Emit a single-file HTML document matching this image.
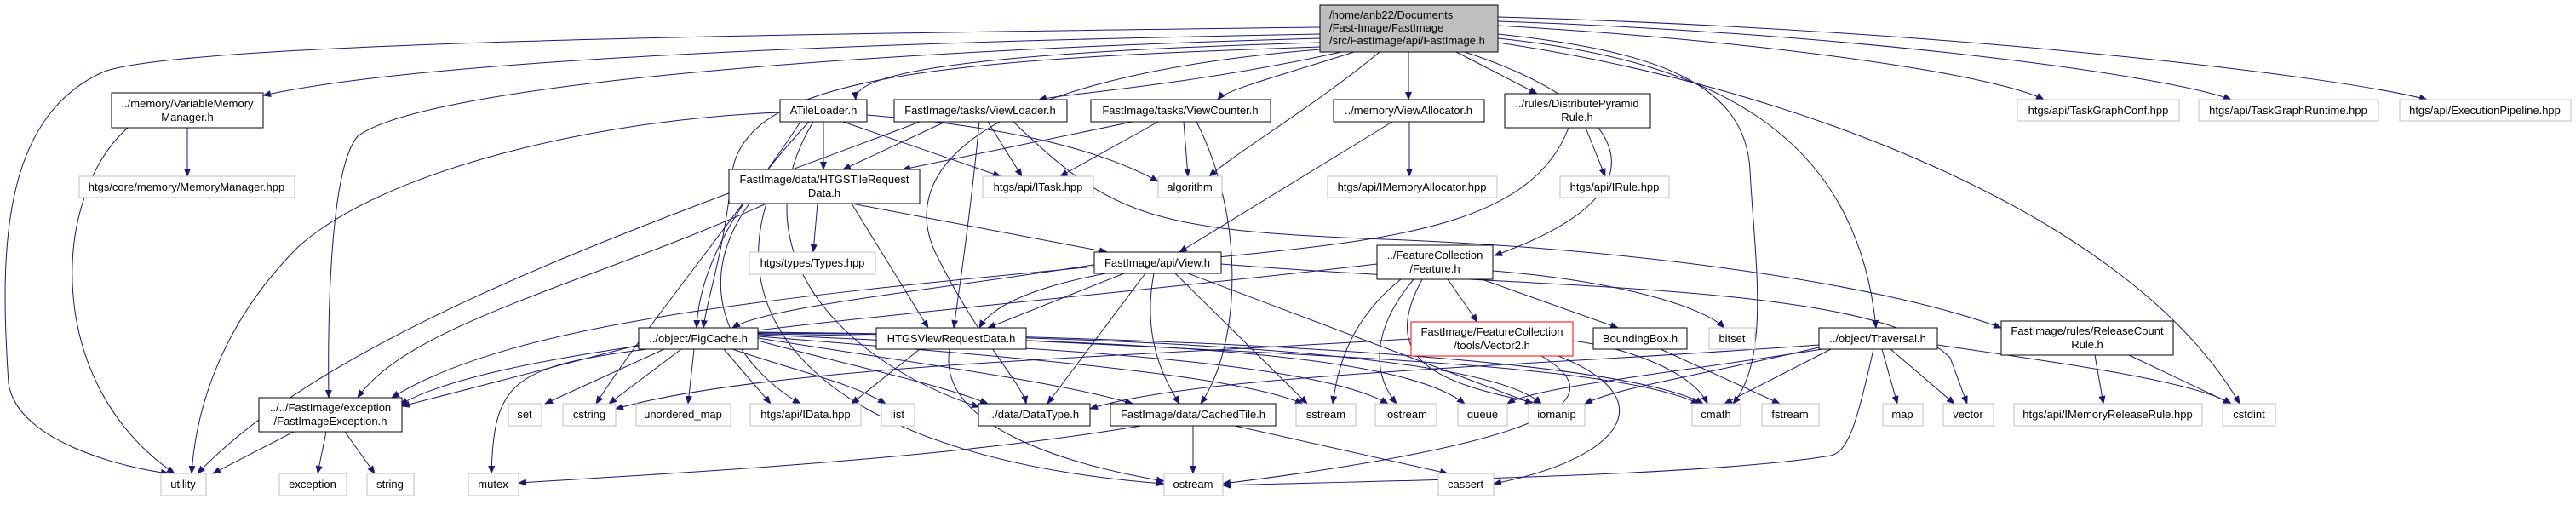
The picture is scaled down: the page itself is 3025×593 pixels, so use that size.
<!DOCTYPE html>
<html><head><meta charset="utf-8"><style>
html,body{margin:0;padding:0;background:#fff;}
svg text{font-family:"Liberation Sans",sans-serif;font-size:13px;fill:#000;}
</style></head><body>
<svg width="3025" height="588" viewBox="0 0 3025 588" xmlns="http://www.w3.org/2000/svg">
<defs><marker id="a" markerWidth="10" markerHeight="8" refX="9" refY="4" orient="auto" markerUnits="userSpaceOnUse"><path d="M0,0 L10,4 L0,8 z" fill="#191970"/></marker></defs>
<g fill="none" stroke="#191970" stroke-width="1" marker-end="url(#a)">
<path d="M1550,32 C900,40 200,50 120,85 C0,140 0,300 10,450 C20,520 150,550 198,556"/>
<path d="M1550,40 C1000,50 500,70 309,112"/>
<path d="M1550,45 C1000,60 500,100 420,160 C385,200 385,400 386,467"/>
<path d="M1550,50 C1200,60 1000,80 1005,117"/>
<path d="M1550,55 C1100,70 880,90 860,200 C850,300 830,350 826,385"/>
<path d="M1550,58 C1150,90 1050,200 1100,300 C1150,400 1200,450 1205,474"/>
<path d="M1575,61 C1400,100 1250,110 1220,117"/>
<path d="M1590,61 C1500,90 1440,105 1430,117"/>
<path d="M1620,61 C1550,120 1450,180 1420,207"/>
<path d="M1654,61 L1654,117"/>
<path d="M1710,61 L1805,110"/>
<path d="M1720,61 C1900,120 1980,220 1755,300"/>
<path d="M1759,40 C1950,60 2050,100 2055,200 C2060,300 2080,420 2035,474"/>
<path d="M1759,45 C2000,70 2180,150 2203,385"/>
<path d="M1759,50 C2100,100 2500,250 2630,474"/>
<path d="M1759,30 C2100,50 2350,90 2400,117"/>
<path d="M1759,25 C2200,40 2550,90 2620,117"/>
<path d="M1759,20 C2300,35 2750,90 2850,117"/>

<path d="M220,150 L220,207"/>
<path d="M150,150 C60,230 50,450 205,556"/>
<path d="M967,143 L967,199"/>
<path d="M990,143 L1175,207"/>
<path d="M1018,135 C1200,150 1300,180 1360,213"/>
<path d="M916,132 C700,140 450,200 350,290 C260,380 230,480 225,556"/>
<path d="M940,143 C870,250 760,380 700,474"/>
<path d="M950,143 C850,250 820,330 818,385"/>
<path d="M955,143 C860,300 1000,430 1150,478"/>
<path d="M1110,143 L990,199"/>
<path d="M1160,143 L1200,207"/>
<path d="M1150,143 C1140,250 1125,350 1120,385"/>
<path d="M1080,143 C800,250 400,380 232,556"/>
<path d="M1190,143 C1300,250 1350,270 1600,280 C1900,290 2200,330 2350,385"/>
<path d="M1330,143 L1060,199"/>
<path d="M1360,143 L1245,207"/>
<path d="M1390,143 L1395,207"/>
<path d="M1405,143 C1460,250 1460,400 1410,474"/>
<path d="M1635,143 L1385,296"/>
<path d="M1655,143 L1655,207"/>
<path d="M1862,150 L1885,207"/>
<path d="M1842,150 C1800,260 1650,280 1450,300 C1250,320 1170,350 1150,385"/>
<path d="M960,239 L955,296"/>
<path d="M1000,239 L1300,296"/>
<path d="M1000,239 L1090,385"/>
<path d="M900,239 C850,400 1000,540 1367,568"/>
<path d="M880,239 C800,350 880,440 940,474"/>
<path d="M900,239 C700,330 480,380 420,467"/>
<path d="M1290,310 C1100,340 900,360 860,385"/>
<path d="M1320,321 L1160,385"/>
<path d="M1345,321 L1230,474"/>
<path d="M1355,321 C1340,400 1370,450 1385,474"/>
<path d="M1380,321 L1535,474"/>
<path d="M1395,321 L1800,474"/>
<path d="M1285,313 C900,350 600,380 460,467"/>
<path d="M1434,310 C1800,340 2200,330 2290,420 L2310,474"/>
<path d="M1700,328 L1735,378"/>
<path d="M1740,328 L1900,385"/>
<path d="M1753,318 C1900,330 2000,360 2025,385"/>
<path d="M1645,328 C1580,380 1570,440 1565,474"/>
<path d="M1660,328 C1600,400 1620,450 1640,474"/>
<path d="M1670,328 C1620,420 1680,450 1810,474"/>
<path d="M1617,310 C1100,370 600,400 470,475"/>
<path d="M750,405 L472,477"/>
<path d="M780,410 L640,474"/>
<path d="M800,410 L715,474"/>
<path d="M815,410 L808,474"/>
<path d="M850,410 L905,474"/>
<path d="M860,410 C950,440 1000,450 1040,474"/>
<path d="M890,400 C1000,430 1100,450 1160,474"/>
<path d="M890,397 C1100,430 1250,450 1330,474"/>
<path d="M890,395 C1200,420 1450,440 1530,474"/>
<path d="M890,393 C1300,410 1550,430 1630,474"/>
<path d="M890,392 C1400,400 1650,420 1720,474"/>
<path d="M890,391 C1400,395 1750,420 1810,474"/>
<path d="M760,410 C600,430 580,450 577,556"/>
<path d="M890,390 C1400,395 1900,420 2000,474"/>
<path d="M1080,410 L1000,474"/>
<path d="M1115,410 C1100,500 1250,545 1367,565"/>
<path d="M1205,400 C1600,420 1900,430 1995,474"/>
<path d="M1847,400 C1920,410 1990,440 2005,474"/>
<path d="M1810,418 C1900,470 1820,520 1436,568"/>
<path d="M1830,418 C1960,470 1900,540 1754,568"/>
<path d="M1657,398 C1300,420 900,430 723,480"/>
<path d="M1950,410 L2090,474"/>
<path d="M2150,410 L2025,474"/>
<path d="M2210,410 L2228,474"/>
<path d="M2220,410 L2295,474"/>
<path d="M2275,405 C2450,430 2580,450 2620,474"/>
<path d="M2200,410 C2180,500 2170,530 2150,535 C2000,560 1600,565 1436,570"/>
<path d="M2136,405 C1800,430 1400,440 1280,480"/>
<path d="M2136,408 C2000,440 1900,455 1861,474"/>
<path d="M2140,410 C1950,440 1800,455 1770,474"/>
<path d="M2460,417 L2470,474"/>
<path d="M2500,417 L2620,474"/>
<path d="M1401,500 L1401,556"/>
<path d="M1450,500 L1700,556"/>
<path d="M1340,500 C1100,540 800,555 609,567"/>
<path d="M345,507 L250,556"/>
<path d="M383,507 L373,556"/>
<path d="M405,507 L440,556"/>
</g>
<g stroke-width="1">
<rect x="1550" y="6" width="209" height="55" fill="#bfbfbf" stroke="#000"/>
<text x="1561" y="22">/home/anb22/Documents</text><text x="1561" y="37">/Fast-Image/FastImage</text><text x="1561" y="52">/src/FastImage/api/FastImage.h</text>
<rect x="131" y="109" width="178" height="41" fill="#fff" stroke="#000"/><text x="220" y="126" text-anchor="middle">../memory/VariableMemory</text><text x="220" y="142" text-anchor="middle">Manager.h</text>
<rect x="916" y="117" width="102" height="26" fill="#fff" stroke="#000"/><text x="967" y="134" text-anchor="middle">ATileLoader.h</text>
<rect x="1050" y="117" width="203" height="26" fill="#fff" stroke="#000"/><text x="1151" y="134" text-anchor="middle">FastImage/tasks/ViewLoader.h</text>
<rect x="1281" y="117" width="211" height="26" fill="#fff" stroke="#000"/><text x="1386" y="134" text-anchor="middle">FastImage/tasks/ViewCounter.h</text>
<rect x="1566" y="117" width="177" height="26" fill="#fff" stroke="#000"/><text x="1654" y="134" text-anchor="middle">../memory/ViewAllocator.h</text>
<rect x="1767" y="110" width="171" height="40" fill="#fff" stroke="#000"/><text x="1852" y="126" text-anchor="middle">../rules/DistributePyramid</text><text x="1852" y="142" text-anchor="middle">Rule.h</text>
<rect x="93" y="207" width="253" height="25" fill="#fff" stroke="#bfbfbf"/><text x="219" y="224" text-anchor="middle">htgs/core/memory/MemoryManager.hpp</text>
<rect x="856" y="199" width="224" height="40" fill="#fff" stroke="#000"/><text x="968" y="215" text-anchor="middle">FastImage/data/HTGSTileRequest</text><text x="968" y="231" text-anchor="middle">Data.h</text>
<rect x="1154" y="207" width="130" height="25" fill="#fff" stroke="#bfbfbf"/><text x="1219" y="224" text-anchor="middle">htgs/api/ITask.hpp</text>
<rect x="1360" y="207" width="75" height="25" fill="#fff" stroke="#bfbfbf"/><text x="1397" y="224" text-anchor="middle">algorithm</text>
<rect x="1559" y="207" width="199" height="25" fill="#fff" stroke="#bfbfbf"/><text x="1658" y="224" text-anchor="middle">htgs/api/IMemoryAllocator.hpp</text>
<rect x="1832" y="207" width="128" height="25" fill="#fff" stroke="#bfbfbf"/><text x="1896" y="224" text-anchor="middle">htgs/api/IRule.hpp</text>
<rect x="2369" y="117" width="190" height="25" fill="#fff" stroke="#bfbfbf"/><text x="2464" y="134" text-anchor="middle">htgs/api/TaskGraphConf.hpp</text>
<rect x="2582" y="117" width="211" height="25" fill="#fff" stroke="#bfbfbf"/><text x="2687" y="134" text-anchor="middle">htgs/api/TaskGraphRuntime.hpp</text>
<rect x="2818" y="117" width="201" height="25" fill="#fff" stroke="#bfbfbf"/><text x="2918" y="134" text-anchor="middle">htgs/api/ExecutionPipeline.hpp</text>
<rect x="880" y="296" width="148" height="26" fill="#fff" stroke="#bfbfbf"/><text x="954" y="313" text-anchor="middle">htgs/types/Types.hpp</text>
<rect x="1285" y="296" width="149" height="25" fill="#fff" stroke="#000"/><text x="1359" y="313" text-anchor="middle">FastImage/api/View.h</text>
<rect x="1617" y="288" width="136" height="40" fill="#fff" stroke="#000"/><text x="1685" y="304" text-anchor="middle">../FeatureCollection</text><text x="1685" y="320" text-anchor="middle">/Feature.h</text>
<rect x="750" y="385" width="140" height="25" fill="#fff" stroke="#000"/><text x="820" y="402" text-anchor="middle">../object/FigCache.h</text>
<rect x="1029" y="385" width="176" height="25" fill="#fff" stroke="#000"/><text x="1117" y="402" text-anchor="middle">HTGSViewRequestData.h</text>
<rect x="1657" y="378" width="190" height="40" fill="#fff" stroke="#ff0000"/><text x="1752" y="394" text-anchor="middle">FastImage/FeatureCollection</text><text x="1752" y="410" text-anchor="middle">/tools/Vector2.h</text>
<rect x="1871" y="385" width="110" height="25" fill="#fff" stroke="#000"/><text x="1926" y="402" text-anchor="middle">BoundingBox.h</text>
<rect x="2007" y="385" width="54" height="25" fill="#fff" stroke="#bfbfbf"/><text x="2034" y="402" text-anchor="middle">bitset</text>
<rect x="2136" y="385" width="139" height="25" fill="#fff" stroke="#000"/><text x="2205" y="402" text-anchor="middle">../object/Traversal.h</text>
<rect x="2350" y="377" width="202" height="40" fill="#fff" stroke="#000"/><text x="2451" y="393" text-anchor="middle">FastImage/rules/ReleaseCount</text><text x="2451" y="409" text-anchor="middle">Rule.h</text>
<rect x="304" y="467" width="168" height="40" fill="#fff" stroke="#000"/><text x="388" y="483" text-anchor="middle">../../FastImage/exception</text><text x="388" y="499" text-anchor="middle">/FastImageException.h</text>
<rect x="597" y="474" width="39" height="26" fill="#fff" stroke="#bfbfbf"/><text x="616" y="491" text-anchor="middle">set</text>
<rect x="661" y="474" width="62" height="26" fill="#fff" stroke="#bfbfbf"/><text x="692" y="491" text-anchor="middle">cstring</text>
<rect x="747" y="474" width="111" height="26" fill="#fff" stroke="#bfbfbf"/><text x="802" y="491" text-anchor="middle">unordered_map</text>
<rect x="881" y="474" width="130" height="26" fill="#fff" stroke="#bfbfbf"/><text x="946" y="491" text-anchor="middle">htgs/api/IData.hpp</text>
<rect x="1035" y="474" width="39" height="26" fill="#fff" stroke="#bfbfbf"/><text x="1054" y="491" text-anchor="middle">list</text>
<rect x="1149" y="474" width="131" height="26" fill="#fff" stroke="#000"/><text x="1214" y="491" text-anchor="middle">../data/DataType.h</text>
<rect x="1304" y="474" width="194" height="26" fill="#fff" stroke="#000"/><text x="1401" y="491" text-anchor="middle">FastImage/data/CachedTile.h</text>
<rect x="1522" y="474" width="70" height="26" fill="#fff" stroke="#bfbfbf"/><text x="1557" y="491" text-anchor="middle">sstream</text>
<rect x="1615" y="474" width="72" height="26" fill="#fff" stroke="#bfbfbf"/><text x="1651" y="491" text-anchor="middle">iostream</text>
<rect x="1712" y="474" width="58" height="26" fill="#fff" stroke="#bfbfbf"/><text x="1741" y="491" text-anchor="middle">queue</text>
<rect x="1795" y="474" width="66" height="26" fill="#fff" stroke="#bfbfbf"/><text x="1828" y="491" text-anchor="middle">iomanip</text>
<rect x="1987" y="474" width="57" height="26" fill="#fff" stroke="#bfbfbf"/><text x="2015" y="491" text-anchor="middle">cmath</text>
<rect x="2069" y="474" width="67" height="26" fill="#fff" stroke="#bfbfbf"/><text x="2102" y="491" text-anchor="middle">fstream</text>
<rect x="2211" y="474" width="47" height="26" fill="#fff" stroke="#bfbfbf"/><text x="2234" y="491" text-anchor="middle">map</text>
<rect x="2282" y="474" width="59" height="26" fill="#fff" stroke="#bfbfbf"/><text x="2311" y="491" text-anchor="middle">vector</text>
<rect x="2365" y="474" width="221" height="26" fill="#fff" stroke="#bfbfbf"/><text x="2475" y="491" text-anchor="middle">htgs/api/IMemoryReleaseRule.hpp</text>
<rect x="2610" y="474" width="62" height="26" fill="#fff" stroke="#bfbfbf"/><text x="2641" y="491" text-anchor="middle">cstdint</text>
<rect x="189" y="556" width="53" height="26" fill="#fff" stroke="#bfbfbf"/><text x="215" y="573" text-anchor="middle">utility</text>
<rect x="328" y="556" width="79" height="26" fill="#fff" stroke="#bfbfbf"/><text x="367" y="573" text-anchor="middle">exception</text>
<rect x="431" y="556" width="55" height="26" fill="#fff" stroke="#bfbfbf"/><text x="458" y="573" text-anchor="middle">string</text>
<rect x="550" y="556" width="59" height="26" fill="#fff" stroke="#bfbfbf"/><text x="579" y="573" text-anchor="middle">mutex</text>
<rect x="1367" y="556" width="69" height="26" fill="#fff" stroke="#bfbfbf"/><text x="1401" y="573" text-anchor="middle">ostream</text>
<rect x="1689" y="556" width="65" height="26" fill="#fff" stroke="#bfbfbf"/><text x="1721" y="573" text-anchor="middle">cassert</text>
</g>
</svg>
</body></html>
